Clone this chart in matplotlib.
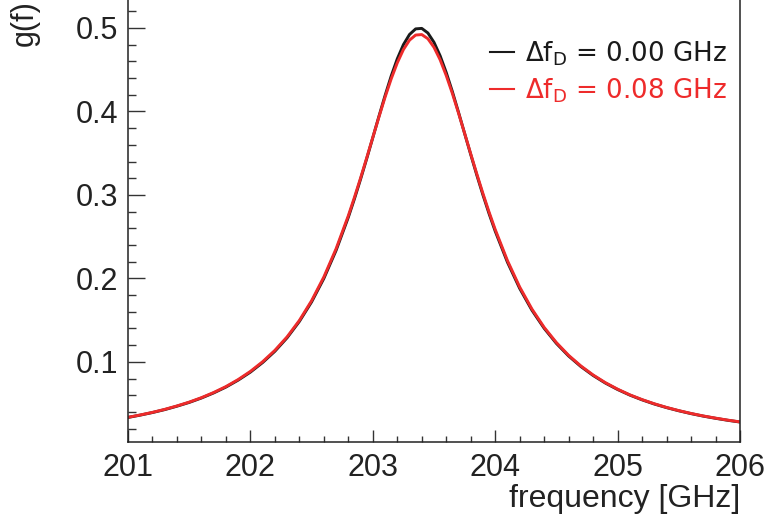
import numpy as np
import matplotlib
matplotlib.use("Agg")
import matplotlib.pyplot as plt
from matplotlib.lines import Line2D

# frequency grid (GHz)
freq = [201.0, 201.1, 201.2, 201.3, 201.4, 201.5, 201.6, 201.7, 201.8, 201.9,
        202.0, 202.1, 202.2, 202.3, 202.4, 202.5, 202.6, 202.7, 202.8, 202.85,
        202.9, 202.95, 203.0, 203.05, 203.1, 203.15, 203.2, 203.25, 203.3, 203.35,
        203.4, 203.45, 203.5, 203.55, 203.6, 203.65, 203.7, 203.75, 203.8, 203.85,
        203.9, 203.95, 204.0, 204.1, 204.2, 204.3, 204.4, 204.5, 204.6, 204.7,
        204.8, 204.9, 205.0, 205.1, 205.2, 205.3, 205.4, 205.5, 205.6, 205.7,
        205.8, 205.9, 206.0]

# g(f), no doppler broadening (black)
g_000 = [0.0334, 0.0362, 0.0393, 0.0428, 0.0469, 0.0514, 0.0567, 0.0628, 0.0698, 0.0781,
         0.0877, 0.0992, 0.1127, 0.1289, 0.1484, 0.1718, 0.1999, 0.2335, 0.2732, 0.2953,
         0.3188, 0.3433, 0.3686, 0.3941, 0.4189, 0.4423, 0.4630, 0.4800, 0.4922, 0.4989,
         0.4995, 0.4940, 0.4828, 0.4667, 0.4466, 0.4238, 0.3991, 0.3737, 0.3484, 0.3236,
         0.2999, 0.2775, 0.2566, 0.2194, 0.1880, 0.1619, 0.1402, 0.1221, 0.1070, 0.0944,
         0.0837, 0.0746, 0.0669, 0.0602, 0.0545, 0.0495, 0.0452, 0.0414, 0.0380, 0.0350,
         0.0324, 0.0300, 0.0279]

# g(f), delta f_D = 0.08 GHz (red)
g_008 = [0.0336, 0.0364, 0.0395, 0.0431, 0.0472, 0.0518, 0.0571, 0.0633, 0.0704, 0.0788,
         0.0886, 0.1002, 0.1138, 0.1300, 0.1496, 0.1733, 0.2017, 0.2355, 0.2751, 0.2971,
         0.3202, 0.3443, 0.3689, 0.3933, 0.4170, 0.4389, 0.4582, 0.4741, 0.4854, 0.4915,
         0.4921, 0.4871, 0.4768, 0.4619, 0.4430, 0.4216, 0.3982, 0.3738, 0.3492, 0.3250,
         0.3016, 0.2794, 0.2586, 0.2213, 0.1897, 0.1633, 0.1413, 0.1231, 0.1078, 0.0951,
         0.0843, 0.0751, 0.0673, 0.0605, 0.0548, 0.0498, 0.0454, 0.0416, 0.0382, 0.0352,
         0.0326, 0.0302, 0.0281]

labels = [r"$\Delta$f$_{\mathrm{D}}$ = 0.00 GHz", r"$\Delta$f$_{\mathrm{D}}$ = 0.08 GHz"]
colors = ["#1a1a1a", "#ee2b2b"]

plt.rcParams["mathtext.fontset"] = "dejavusans"

fig = plt.figure(figsize=(7.66, 5.27), dpi=100)
ax = fig.add_axes([128 / 766, 85 / 527, 612 / 766, 442 / 527])

ax.plot(freq, g_000, color=colors[0], lw=2.1)
ax.plot(freq, g_008, color=colors[1], lw=2.1)

ax.set_xlim(201, 206)
ax.set_ylim(0.004, 0.5335)

ax.set_xticks([201, 202, 203, 204, 205, 206])
ax.set_xticks(np.arange(201, 206.01, 0.2), minor=True)
ax.set_yticks([0.1, 0.2, 0.3, 0.4, 0.5])
ax.set_yticks(np.arange(0.02, 0.53, 0.02), minor=True)

ax.spines["top"].set_visible(False)
for s in ["left", "bottom", "right"]:
    ax.spines[s].set_linewidth(1.1)
    ax.spines[s].set_color("#222222")

ax.tick_params(axis="both", which="both", direction="in", color="#333333", width=1.0,
               labelcolor="#222222")
ax.tick_params(axis="x", which="major", length=8.6, pad=8)
ax.tick_params(axis="x", which="minor", length=4.3)
ax.tick_params(axis="y", which="major", length=12.5, pad=7)
ax.tick_params(axis="y", which="minor", length=6)
for lab in ax.get_xticklabels() + ax.get_yticklabels():
    lab.set_fontfamily("Liberation Sans")
    lab.set_fontsize(22)

ax.set_xlabel("frequency [GHz]", loc="right", fontsize=23,
              fontfamily="Liberation Sans", color="#222222")
ax.xaxis.set_label_coords(1.0, -0.096)
ax.set_ylabel("g(f)", loc="top", fontsize=22,
              fontfamily="Liberation Sans", color="#222222")
ax.yaxis.set_label_coords(-0.144, 1.0)

handles = [Line2D([], [], color=c, lw=1.5) for c in colors]
ax.legend(handles, labels, loc="upper right", bbox_to_anchor=(0.995, 0.935),
          frameon=False, labelcolor="linecolor", handlelength=0.95,
          handletextpad=0.4, labelspacing=0.34, borderaxespad=0.0,
          prop={"family": "DejaVu Sans", "size": 18.8})

fig.savefig("out.png", dpi=100)
